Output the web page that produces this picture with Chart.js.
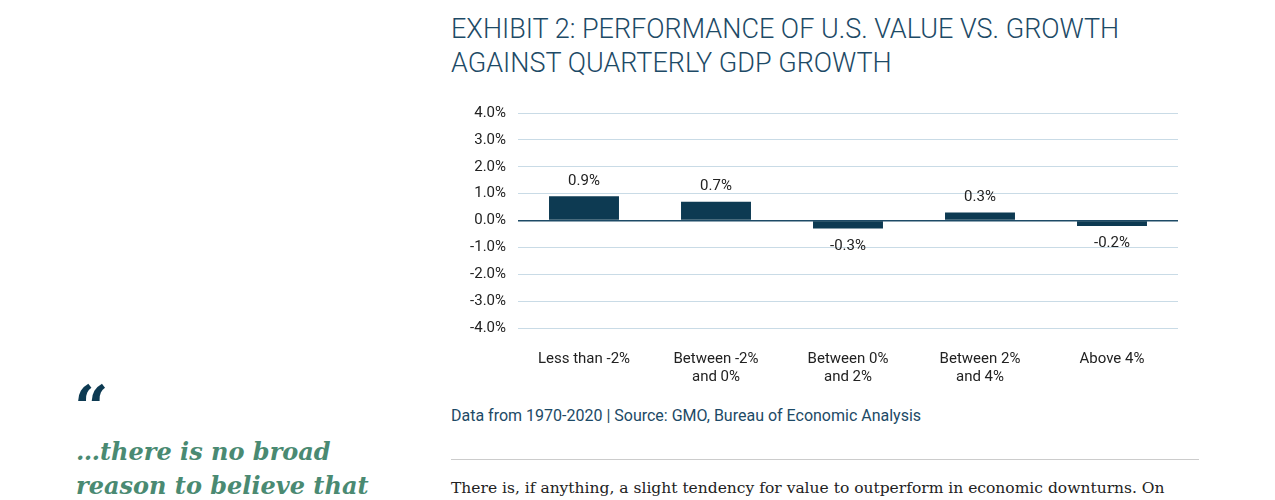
<!DOCTYPE html>
<html><head><meta charset="utf-8">
<script src="https://cdn.jsdelivr.net/npm/chart.js@4/dist/chart.umd.min.js"></script>
<style>
body{margin:0;width:1275px;height:500px;background:#fff;position:relative;overflow:hidden;font-family:Roboto,sans-serif}
#title{position:absolute;left:451px;top:12px;font-family:Roboto;font-weight:300;font-size:27px;line-height:34px;color:#1d4a66;letter-spacing:0px}
#wrap{position:absolute;left:462px;top:92px;width:738px;height:308px}
#src{position:absolute;left:451px;top:406px;font-family:Roboto;font-size:16px;color:#1d4a66}
#rule{position:absolute;left:451px;top:459px;width:748px;border-top:1px solid #ccc}
#para{position:absolute;left:451px;top:479px;font-family:'DejaVu Serif',serif;font-size:15.5px;color:#222;white-space:nowrap}
#qm{position:absolute;left:74px;top:372px;font-family:'DejaVu Serif',serif;font-size:60px;font-weight:bold;color:#0d3a52}
#quote{position:absolute;left:76px;top:435px;font-family:'DejaVu Serif',serif;font-style:italic;font-weight:bold;font-size:24px;line-height:34px;color:#4a8a72}
</style></head><body>
<div id="title">EXHIBIT 2: PERFORMANCE OF U.S. VALUE VS. GROWTH<br>AGAINST QUARTERLY GDP GROWTH</div>
<div id="wrap"><canvas id="c"></canvas></div>
<div id="src">Data from 1970-2020 | Source: GMO, Bureau of Economic Analysis</div>
<div id="rule"></div>
<div id="para">There is, if anything, a slight tendency for value to outperform in economic downturns. On</div>
<div id="qm">“</div>
<div id="quote">…there is no broad<br>reason to believe that</div>
<script>
const categories=[["Less than -2%"],["Between -2%","and 0%"],["Between 0%","and 2%"],["Between 2%","and 4%"],["Above 4%"]];
const values=[0.9,0.7,-0.3,0.3,-0.2];
const labels=["0.9%","0.7%","-0.3%","0.3%","-0.2%"];
const FONT="Roboto, sans-serif";
const lbl={id:'lbl',afterDatasetsDraw(ch){const c=ch.ctx;const m=ch.getDatasetMeta(0);c.save();c.font='15px '+FONT;c.fillStyle='#222';c.textAlign='center';
m.data.forEach((b,i)=>{if(values[i]>=0){c.textBaseline='bottom';c.fillText(labels[i],b.x,b.y-8);}else{c.textBaseline='top';c.fillText(labels[i],b.x,b.y+10);}});c.restore();}};
new Chart(document.getElementById('c'),{type:'bar',data:{labels:categories,datasets:[{data:values,backgroundColor:'#0d3a52',categoryPercentage:0.53,barPercentage:1}]},
options:{responsive:true,maintainAspectRatio:false,animation:false,layout:{padding:{left:0,right:22,top:2,bottom:0}},
plugins:{legend:{display:false},tooltip:{enabled:false}},
scales:{y:{min:-4,max:4,afterFit:s=>{s.width=56;},ticks:{stepSize:1,color:'#222',padding:12,font:{family:FONT,size:15},callback:v=>v.toFixed(1)+'%'},
grid:{color:c=>c.tick.value===0?'#1d4a66':'#c9dbe6',lineWidth:c=>c.tick.value===0?1.5:1,drawTicks:false},border:{display:false}},
x:{ticks:{color:'#222',font:{family:FONT,size:15},padding:14},grid:{display:false},border:{display:false}}}},plugins:[lbl]});
</script></body></html>
